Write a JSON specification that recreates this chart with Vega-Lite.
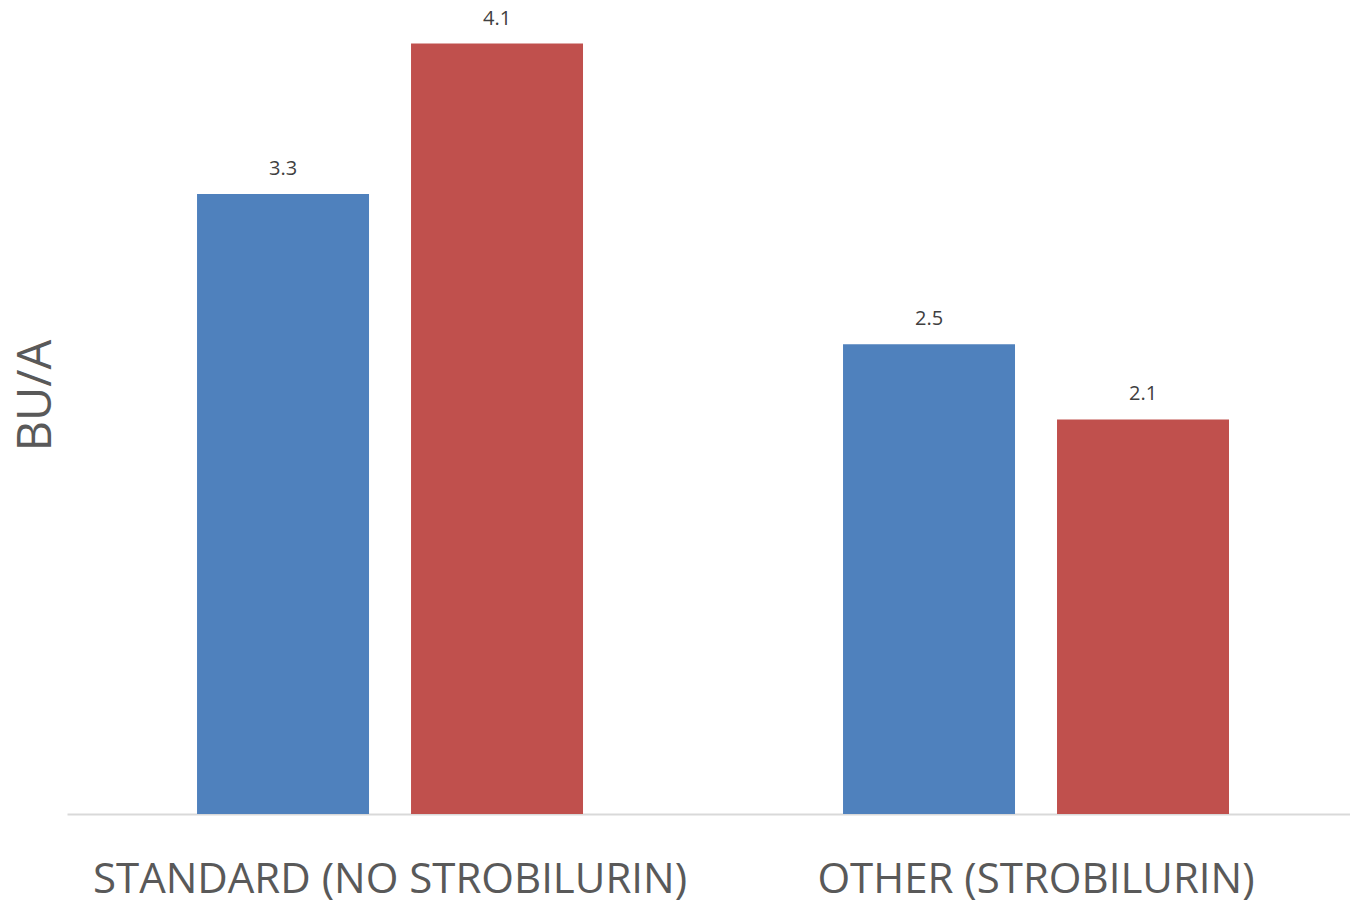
{
  "$schema": "https://vega.github.io/schema/vega-lite/v6.json",
  "width": 1283,
  "height": 814,
  "padding": {"left": 67, "top": 0, "right": 0, "bottom": 92},
  "autosize": {"type": "none"},
  "background": "white",
  "config": {"view": {"stroke": null}, "font": "Open Sans"},
  "data": {
    "values": [
      {"category": "STANDARD (NO STROBILURIN)", "series": "A", "value": 3.3},
      {"category": "STANDARD (NO STROBILURIN)", "series": "B", "value": 4.1},
      {"category": "OTHER (STROBILURIN)", "series": "A", "value": 2.5},
      {"category": "OTHER (STROBILURIN)", "series": "B", "value": 2.1}
    ]
  },
  "encoding": {
    "x": {
      "field": "category",
      "type": "nominal",
      "sort": null,
      "scale": {"paddingInner": 0.4025, "paddingOuter": 0.1943, "align": 0.518},
      "axis": {
        "title": null,
        "labelAngle": 0,
        "labelFont": "Open Sans",
        "labelFontSize": 42,
        "labelColor": "#595959",
        "labelBaseline": "alphabetic",
        "labelPadding": 78,
        "ticks": false,
        "domainColor": "#d9d9d9",
        "domainWidth": 2,
        "grid": false,
        "labelLimit": 0
      }
    },
    "xOffset": {
      "field": "series",
      "type": "nominal",
      "sort": null,
      "scale": {"paddingInner": 0.1963, "paddingOuter": 0}
    },
    "y": {
      "field": "value",
      "type": "quantitative",
      "scale": {"domain": [0, 4.332], "nice": false, "zero": true},
      "axis": {
        "title": "BU/A",
        "titleFont": "Open Sans",
        "titleFontSize": 47,
        "titleFontWeight": "normal",
        "titleColor": "#595959",
        "titleAngle": -90,
        "titleAlign": "center",
        "titleBaseline": "middle",
        "titleX": -31,
        "titleY": 395,
        "labels": false,
        "ticks": false,
        "domain": false,
        "grid": false
      }
    }
  },
  "layer": [
    {
      "mark": {"type": "bar"},
      "encoding": {
        "color": {
          "field": "series",
          "type": "nominal",
          "sort": null,
          "scale": {"domain": ["A", "B"], "range": ["#4F81BD", "#C0504D"]},
          "legend": null
        }
      }
    },
    {
      "mark": {"type": "text", "baseline": "alphabetic", "dy": -19, "fontSize": 20, "color": "#404040", "font": "Open Sans"},
      "encoding": {
        "text": {"field": "value", "type": "quantitative", "format": ".1f"}
      }
    }
  ]
}
